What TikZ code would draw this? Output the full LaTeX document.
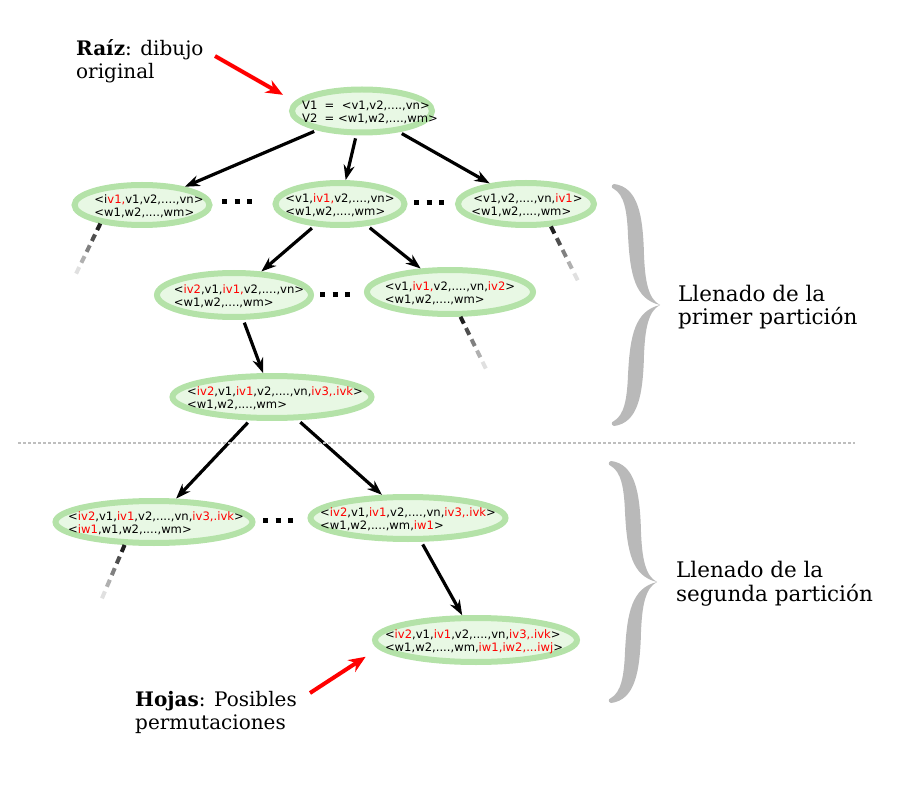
\documentclass[tikz,border=0pt]{standalone}
\usepackage{fontspec}
\setmainfont{DejaVu Serif}
\newfontfamily\nodefont{DejaVu Sans}
\usetikzlibrary{arrows.meta,shapes.geometric,calc}
\definecolor{ring}{RGB}{180,226,168}
\definecolor{inner}{RGB}{232,248,228}
\definecolor{bracegray}{RGB}{185,185,185}
\definecolor{sepgray}{RGB}{190,190,190}
\newcommand{\rr}[1]{\textcolor{red}{#1}}
\newcommand{\twol}[3][0pt]{\makebox[0pt]{\hspace{#1}\smash{\raisebox{-5.5pt}{\begin{tabular}[c]{@{}l@{}}#2\\#3\end{tabular}}}}}
\newcommand{\myfade}[2]{%
  \foreach \i [evaluate=\i as \a using \i*0.2,
               evaluate=\i as \b using \i*0.2+0.12,
               evaluate=\i as \c using int(88-19*\i)] in {0,...,4}
    {\draw[fadedash,black!\c] ($(#1)!\a!(#2)$) -- ($(#1)!\b!(#2)$);}}
\newcommand{\mybrace}{%
  \fill[bracegray] (0,0) .. controls (-12,-6) and (-15,-25) .. (-16,-50)
     .. controls (-17,-90) and (-22,-118) .. (-46,-121)
     .. controls (-49,-120) and (-49,-117) .. (-46,-116)
     .. controls (-36,-110) and (-33,-95) .. (-32,-70)
     .. controls (-30,-30) and (-25,-6) .. (0,0) -- cycle;
  \fill[bracegray] (0,0) .. controls (-12,6) and (-15,25) .. (-16,50)
     .. controls (-17,90) and (-22,118) .. (-46,121)
     .. controls (-49,120) and (-49,117) .. (-46,116)
     .. controls (-36,110) and (-33,95) .. (-32,70)
     .. controls (-30,30) and (-25,6) .. (0,0) -- cycle;}
\begin{document}
\begin{tikzpicture}[x=1pt,y=-1pt,
  st/.style args={#1/#2}{ellipse, draw=ring, fill=inner, line width=6pt,
     inner sep=0pt, minimum width=#1pt, minimum height=#2pt,
     font=\nodefont\fontsize{11.6}{13.2}\selectfont},
  arr/.style={line width=3.2pt, -{Stealth[length=15pt,width=11pt]}, shorten <=3pt},
  redarr/.style={red, line width=4pt, -{Stealth[length=17pt,width=14pt]}},
  fadedash/.style={line width=4pt},
  ell/.style={line width=5pt, dash pattern=on 5pt off 7.5pt},
  labl/.style={anchor=base west, align=left, inner sep=0pt,
     font=\fontsize{20}{23}\selectfont},
  labr/.style={anchor=base west, align=left, inner sep=0pt,
     font=\fontsize{21.5}{23.5}\selectfont},
]
\useasboundingbox (0,0) rectangle (900,786);

% nodes
\node[st=140/43] (root) at (362,111) {\twol[16pt]{V1~~=~~<v1,v2,....,vn>}{V2~~=~<w1,w2,....,wm>}};
\node[st=135/40] (l1a) at (142,205) {\twol[14pt]{<i\rr{v1,}v1,v2,....,vn>}{<w1,w2,....,wm>}};
\node[st=129/42] (l1b) at (340,204) {\twol{<v1,\rr{iv1,}v2,....,vn>}{<w1,w2,....,wm>}};
\node[st=136/42] (l1c) at (526,204) {\twol[2pt]{\,<v1,v2,....,vn,\rr{iv1}>}{<w1,w2,....,wm>}};
\node[st=154/44] (l2a) at (234,295) {\twol[10pt]{<\rr{iv2},v1,\rr{iv1,}v2,....,vn>}{<w1,w2,....,wm>}};
\node[st=166/44] (l2b) at (450,292) {\twol{<v1,\rr{iv1,}v2,....,vn,\rr{iv2}>}{<w1,w2,....,wm>}};
\node[st=199/42] (l3) at (272,397) {\twol[6pt]{<\rr{iv2},v1,\rr{iv1},v2,....,vn,\rr{iv3,.ivk}>}{<w1,w2,....,wm>}};
\node[st=197/42] (l4a) at (154,522) {\twol[4pt]{<\rr{iv2},v1,\rr{iv1},v2,....,vn,\rr{iv3,.ivk}>}{<\rr{iw1},w1,w2,....,wm>}};
\node[st=195/42] (l4b) at (408,518) {\twol{<\rr{iv2},v1,\rr{iv1},v2,....,vn,\rr{iv3,.ivk}>}{<w1,w2,....,wm,\rr{iw1}>}};
\node[st=202/44] (l5) at (476,640) {\twol[-4pt]{<\rr{iv2},v1,\rr{iv1},v2,....,vn,\rr{iv3,.ivk}>}{<w1,w2,....,wm,\rr{iw1,iw2,...iwj}>}};

% arrows
\draw[arr] (root) -- (l1a);
\draw[arr] (root) -- (l1b);
\draw[arr] (root) -- (l1c);
\draw[arr] (l1b) -- (l2a);
\draw[arr] (l1b) -- (l2b);
\draw[arr] (l2a) -- (l3);
\draw[arr] (l3) -- (l4a);
\draw[arr] (l3) -- (l4b);
\draw[arr] (l4b) -- (l5);

% ellipsis dots
\draw[ell] (222,202) -- (258,202);
\draw[ell] (414,203) -- (450,203);
\draw[ell] (320,295) -- (356,295);
\draw[ell] (263,520) -- (299,520);

% fading dashed lines
\coordinate (f1) at (74,278);
\coordinate (f2) at (580,285);
\coordinate (f3) at (488,373);
\coordinate (f4) at (100,603);
\myfade{l1a.204}{f1}
\myfade{l1c.318}{f2}
\myfade{l2b.293}{f3}
\myfade{l4a.218}{f4}

% separator
\draw[sepgray, line width=2.5pt, dash pattern=on 2.5pt off 2.5pt] (18,443) -- (855,443);

% braces
\begin{scope}[shift={(660,305)}] \mybrace \end{scope}
\begin{scope}[shift={(657,582)}] \mybrace \end{scope}

% labels
\node[labl] (raiz) at (76,79) {\textbf{Raíz}: dibujo\\original};
\node[labl] (hojas) at (135,729) {\textbf{Hojas}: Posibles\\permutaciones};
\node[labr] (p1) at (678,325) {Llenado de la\\primer partición};
\node[labr] (p2) at (676,601) {Llenado de la\\segunda partición};

% red arrows
\coordinate (ra) at (215,56);
\coordinate (ha) at (310,693);
\draw[redarr, shorten >=13.5pt] (ra) -- (root.172);
\draw[redarr, shorten >=15pt] (ha) -- (l5.185);
\end{tikzpicture}
\end{document}
